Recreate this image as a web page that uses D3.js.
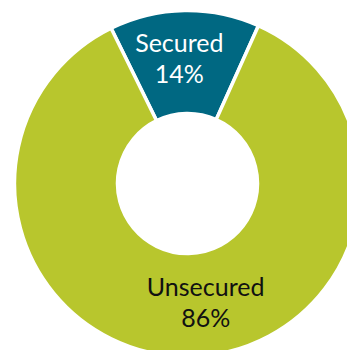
<!DOCTYPE html>
<html lang="en">
<head>
<meta charset="utf-8">
<title>Secured vs Unsecured</title>
<script src="https://cdn.jsdelivr.net/npm/d3@7"></script>
<style>
  body { margin: 0; background: #fff; }
  .lbl { font-family: "Gill Sans", Lato, "Noto Sans", sans-serif; font-size: 25px; }
</style>
</head>
<body>
<div id="chart"></div>
<script>
const categories = ["Secured", "Unsecured"];
const shares = [14, 86];
const colors = ["#006882", "#b8c62d"];
const textColors = ["#ffffff", "#111111"];

const w = 347, h = 350;
const cx = 187.5, cy = 183.5;
const outerR = 173, innerR = 70;

const data = categories.map((c, i) => ({ name: c, value: shares[i] }));

const svg = d3.select("#chart").append("svg")
  .attr("width", w)
  .attr("height", h);

const g = svg.append("g").attr("transform", `translate(${cx},${cy})`);

// secured slice sits centred at the top, tipped a little to the left
const rot = -1 * Math.PI / 180;
const half = shares[0] / 100 * Math.PI;
const pie = d3.pie()
  .value(d => d.value)
  .sort(null)
  .startAngle(-half + rot)
  .endAngle(2 * Math.PI - half + rot);

const arc = d3.arc().innerRadius(innerR).outerRadius(outerR);
const labelArc = d3.arc().innerRadius(124).outerRadius(124);

const arcs = pie(data);

g.selectAll("path")
  .data(arcs)
  .enter()
  .append("path")
    .attr("d", arc)
    .attr("fill", (d, i) => colors[i])
    .attr("stroke", "#fff")
    .attr("stroke-width", 3.5);

const shift = [[-6, -2], [16, -5]];

const labels = g.selectAll("text")
  .data(arcs)
  .enter()
  .append("text")
    .attr("class", "lbl")
    .attr("text-anchor", "middle")
    .attr("fill", (d, i) => textColors[i])
    .attr("transform", (d, i) => {
      const c = labelArc.centroid(d);
      return `translate(${c[0] + shift[i][0]},${c[1] + shift[i][1]})`;
    });

labels.append("tspan")
  .attr("x", 0)
  .attr("y", -6)
  .text(d => d.data.name);

labels.append("tspan")
  .attr("x", 0)
  .attr("y", 25)
  .text(d => d.data.value + "%");
</script>
</body>
</html>
